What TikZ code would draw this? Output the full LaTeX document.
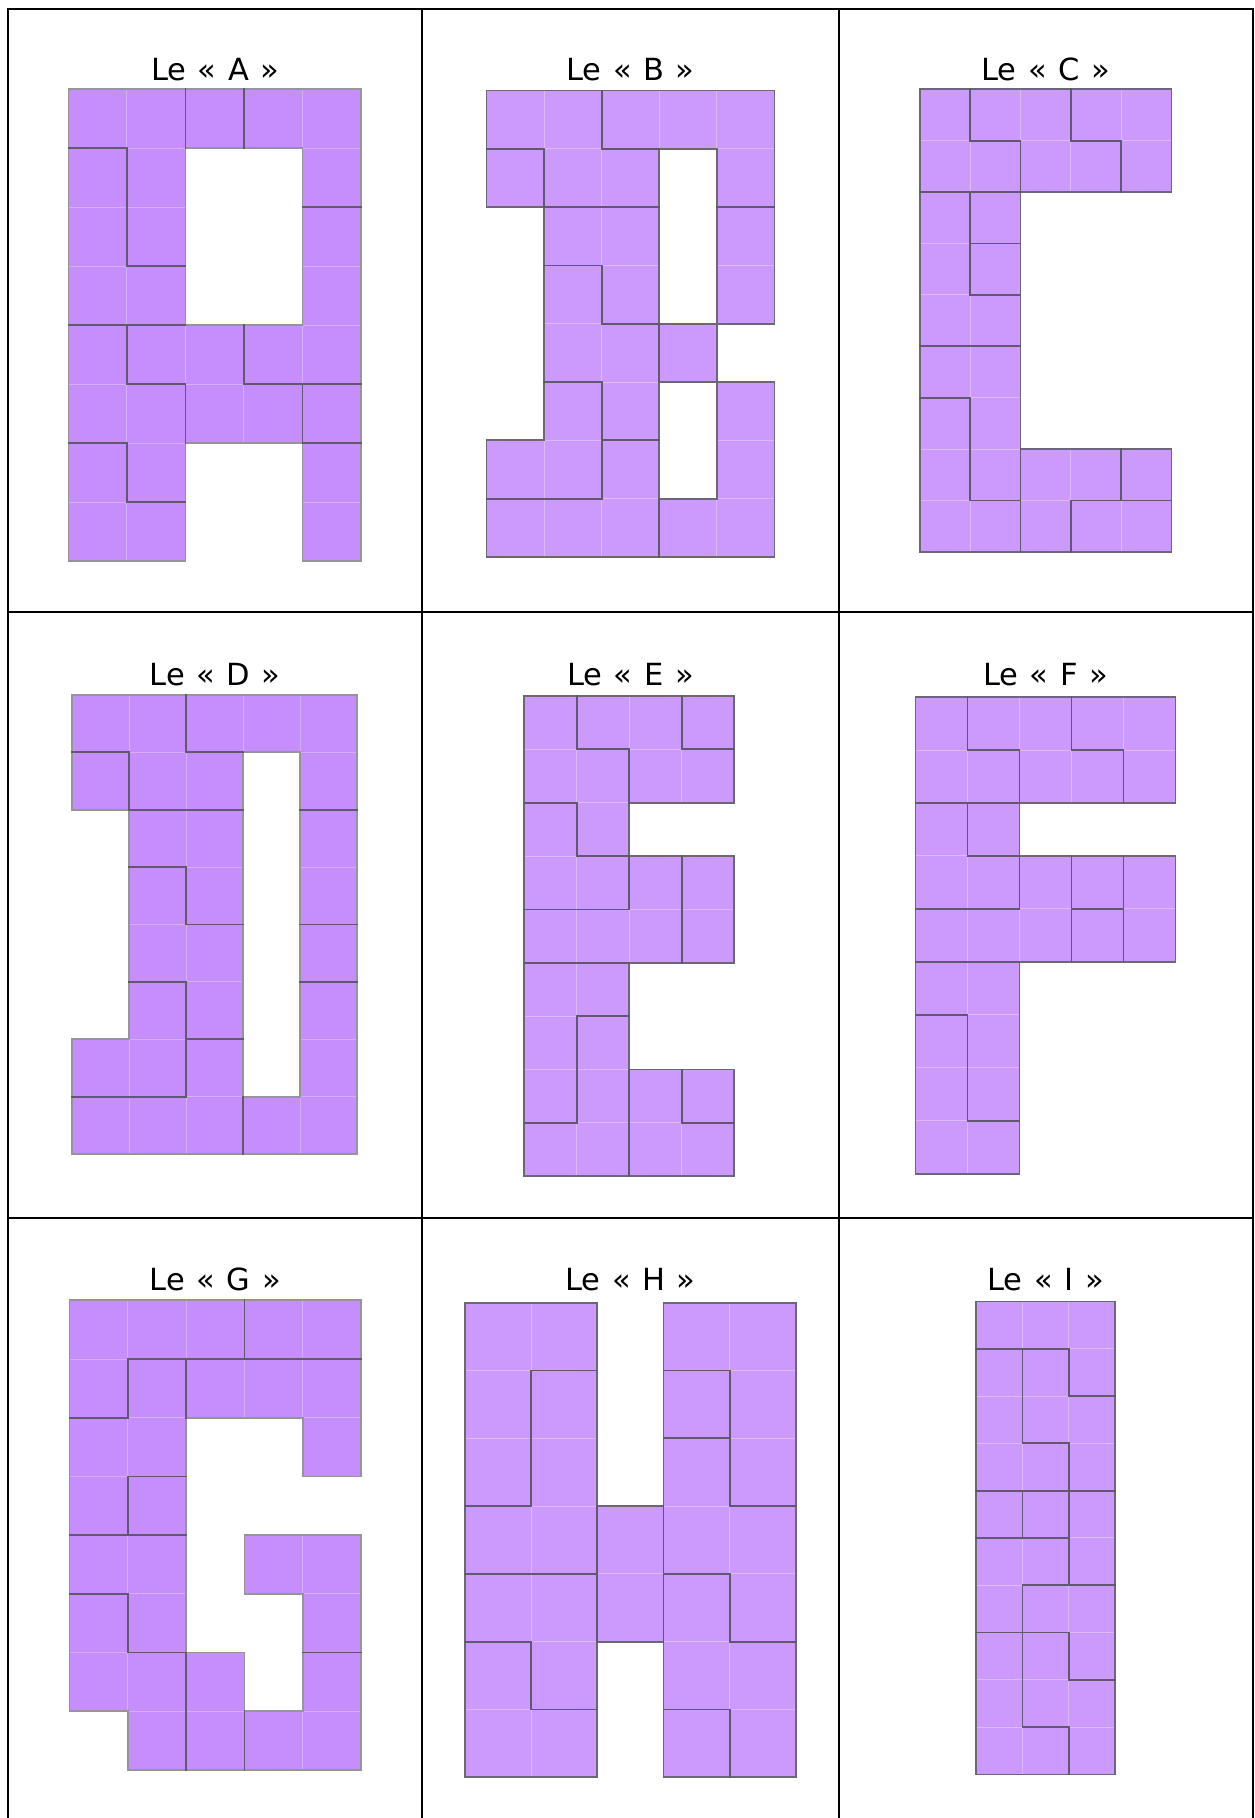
\documentclass[tikz,border=0pt]{standalone}
\usepackage{fontspec}
\setmainfont{DejaVu Sans}[WordSpace=1.2]
\definecolor{purA}{RGB}{197,142,252}
\definecolor{purB}{RGB}{204,154,253}
\definecolor{faintA}{RGB}{214,172,253}
\definecolor{faintB}{RGB}{221,184,254}
\definecolor{innerln}{RGB}{95,88,110}
\definecolor{outerA}{RGB}{150,148,155}
\definecolor{outerB}{RGB}{108,103,116}
\makeatletter
\def\dotchar{.}
\newcommand\setrow[3]{%
  \foreach \v [count=\k from 0] in {#3}{%
    \expandafter\xdef\csname cell@#1@#2@\k\endcsname{\v}%
  }}
\newcommand\getcell[4]{%
  \ifcsname cell@#2@#3@#4\endcsname
    \edef#1{\csname cell@#2@#3@#4\endcsname}%
  \else
    \def#1{.}%
  \fi}
\newcommand\edgekind{%
  \ifx\myL\myR
    \ifx\myL\dotchar\def\kind{0}\else\def\kind{1}\fi
  \else
    \ifx\myL\dotchar\def\kind{3}\else
      \ifx\myR\dotchar\def\kind{3}\else\def\kind{2}\fi
    \fi
  \fi}
% cell size is taken from \lsx and \lsy
% #1 name #2 x0 #3 y0 #4 cols #5 rows #6 wanted kind #7 style
\newcommand\drawedges[7]{%
  \pgfmathtruncatemacro\nrow{#5-1}%
  \pgfmathtruncatemacro\ncol{#4-1}%
  \foreach \r in {0,...,\nrow}{%
    \foreach \c in {0,...,#4}{%
      \pgfmathtruncatemacro\cl{\c-1}%
      \getcell\myL{#1}{\r}{\cl}%
      \getcell\myR{#1}{\r}{\c}%
      \edgekind
      \ifnum\kind=#6\relax
        \draw[#7] ({#2+\c*\lsx},{#3+\r*\lsy}) -- ++(0,\lsy);
      \fi
    }}%
  \foreach \r in {0,...,#5}{%
    \foreach \c in {0,...,\ncol}{%
      \pgfmathtruncatemacro\ru{\r-1}%
      \getcell\myL{#1}{\ru}{\c}%
      \getcell\myR{#1}{\r}{\c}%
      \edgekind
      \ifnum\kind=#6\relax
        \draw[#7] ({#2+\c*\lsx},{#3+\r*\lsy}) -- ++(\lsx,0);
      \fi
    }}%
}
\newcommand\fillcells[6]{%
  \pgfmathtruncatemacro\nrow{#5-1}%
  \pgfmathtruncatemacro\ncol{#4-1}%
  \foreach \r in {0,...,\nrow}{%
    \foreach \c in {0,...,\ncol}{%
      \getcell\myL{#1}{\r}{\c}%
      \ifx\myL\dotchar\else
        \fill[#6] ({#2+\c*\lsx},{#3+\r*\lsy}) rectangle ++(\lsx,\lsy);
      \fi
    }}}
% name x0 y0 cols rows fill faint outer
\newcommand\drawletter[8]{%
  \fillcells{#1}{#2}{#3}{#4}{#5}{#6}%
  \drawedges{#1}{#2}{#3}{#4}{#5}{1}{draw=#7,line width=1pt}%
  \drawedges{#1}{#2}{#3}{#4}{#5}{3}{draw=#8,line width=1.8pt,line cap=rect}%
  \drawedges{#1}{#2}{#3}{#4}{#5}{2}{draw=innerln,line width=1.8pt,line cap=rect}%
}
\makeatother
% ---------- letter grids ----------
\setrow{A}{0}{a,a,b,c,c}
\setrow{A}{1}{d,a,.,.,c}
\setrow{A}{2}{d,a,.,.,e}
\setrow{A}{3}{d,d,.,.,e}
\setrow{A}{4}{f,g,g,e,e}
\setrow{A}{5}{f,f,g,g,h}
\setrow{A}{6}{i,f,.,.,j}
\setrow{A}{7}{i,i,.,.,j}
%
\setrow{B}{0}{a,a,b,b,b}
\setrow{B}{1}{c,a,a,.,b}
\setrow{B}{2}{.,d,d,.,e}
\setrow{B}{3}{.,f,d,.,e}
\setrow{B}{4}{.,f,f,g,.}
\setrow{B}{5}{.,h,f,.,i}
\setrow{B}{6}{h,h,j,.,i}
\setrow{B}{7}{j,j,j,i,i}
%
\setrow{C}{0}{a,b,b,c,c}
\setrow{C}{1}{a,a,b,b,c}
\setrow{C}{2}{d,e,.,.,.}
\setrow{C}{3}{d,f,.,.,.}
\setrow{C}{4}{d,d,.,.,.}
\setrow{C}{5}{g,g,.,.,.}
\setrow{C}{6}{h,g,.,.,.}
\setrow{C}{7}{h,g,i,i,k}
\setrow{C}{8}{h,h,i,l,l}
%
\setrow{D}{0}{a,a,b,b,b}
\setrow{D}{1}{c,a,a,.,b}
\setrow{D}{2}{.,d,d,.,e}
\setrow{D}{3}{.,f,d,.,e}
\setrow{D}{4}{.,f,f,.,k}
\setrow{D}{5}{.,h,f,.,i}
\setrow{D}{6}{h,h,j,.,i}
\setrow{D}{7}{j,j,j,i,i}
%
\setrow{E}{0}{a,b,b,c}
\setrow{E}{1}{a,a,b,b}
\setrow{E}{2}{d,a,.,.}
\setrow{E}{3}{d,d,e,f}
\setrow{E}{4}{e,e,e,f}
\setrow{E}{5}{g,g,.,.}
\setrow{E}{6}{g,h,.,.}
\setrow{E}{7}{g,h,i,k}
\setrow{E}{8}{h,h,i,i}
%
\setrow{F}{0}{a,b,b,c,c}
\setrow{F}{1}{a,a,b,b,c}
\setrow{F}{2}{d,m,.,.,.}
\setrow{F}{3}{d,d,e,n,f}
\setrow{F}{4}{e,e,e,o,f}
\setrow{F}{5}{g,g,.,.,.}
\setrow{F}{6}{h,g,.,.,.}
\setrow{F}{7}{h,g,.,.,.}
\setrow{F}{8}{h,h,.,.,.}
%
\setrow{G}{0}{a,a,a,b,b}
\setrow{G}{1}{a,d,c,c,c}
\setrow{G}{2}{d,d,.,.,c}
\setrow{G}{3}{d,e,.,.,.}
\setrow{G}{4}{f,f,.,h,h}
\setrow{G}{5}{g,f,.,.,h}
\setrow{G}{6}{g,g,i,.,j}
\setrow{G}{7}{.,g,i,j,j}
%
\setrow{H}{0}{a,a,.,b,b}
\setrow{H}{1}{a,d,.,c,b}
\setrow{H}{2}{a,d,.,e,b}
\setrow{H}{3}{d,d,m,e,e}
\setrow{H}{4}{f,f,m,g,e}
\setrow{H}{5}{h,f,.,g,g}
\setrow{H}{6}{h,h,.,k,g}
%
\setrow{I}{0}{a,a,a}
\setrow{I}{1}{b,c,a}
\setrow{I}{2}{b,c,c}
\setrow{I}{3}{b,b,c}
\setrow{I}{4}{h,k,m}
\setrow{I}{5}{d,d,m}
\setrow{I}{6}{d,e,e}
\setrow{I}{7}{f,g,e}
\setrow{I}{8}{f,g,g}
\setrow{I}{9}{f,f,g}
\begin{document}
\begin{tikzpicture}[x=1pt,y=-1pt,
  tbl/.style={draw=black,line width=2pt,line cap=rect},
  ttl/.style={anchor=base,inner sep=0pt,font=\fontsize{30.5pt}{36pt}\selectfont}]
\useasboundingbox[fill=white] (0,0) rectangle (1255,1818);
% table
\draw[tbl] (8.1,9.3) -- (1252.7,9.3);
\draw[tbl] (8.1,612.4) -- (1252.7,612.4);
\draw[tbl] (8.1,1217.9) -- (1252.7,1217.9);
\draw[tbl] (8.1,9.3) -- (8.1,1818);
\draw[tbl] (422.2,9.3) -- (422.2,1818);
\draw[tbl] (838.6,9.3) -- (838.6,1818);
\draw[tbl] (1252.7,9.3) -- (1252.7,1818);
% titles
\node[ttl] (tA) at (215.2,80.7) {Le « A »};
\node[ttl] (tB) at (630.4,80.7) {Le « B »};
\node[ttl] (tC) at (1045.6,80.7) {Le « C »};
\node[ttl] (tD) at (215.2,685) {Le « D »};
\node[ttl] (tE) at (630.4,685) {Le « E »};
\node[ttl] (tF) at (1045.6,685) {Le « F »};
\node[ttl] (tG) at (215.2,1290) {Le « G »};
\node[ttl] (tH) at (630.4,1290) {Le « H »};
\node[ttl] (tI) at (1045.6,1290) {Le « I »};
% letters
\def\lsx{58.5}\def\lsy{59.0}
\drawletter{A}{68.4}{89.3}{5}{8}{purA}{faintA}{outerA}
\def\lsx{57.6}\def\lsy{58.3}
\drawletter{B}{486.4}{90.5}{5}{8}{purB}{faintB}{outerB}
\def\lsx{50.3}\def\lsy{51.4}
\drawletter{C}{919.9}{89.3}{5}{9}{purB}{faintB}{outerB}
\def\lsx{57.0}\def\lsy{57.4}
\drawletter{D}{72}{694.8}{5}{8}{purA}{faintA}{outerA}
\def\lsx{52.5}\def\lsy{53.35}
\drawletter{E}{524.3}{696}{4}{9}{purB}{faintB}{outerB}
\def\lsx{52.0}\def\lsy{52.95}
\drawletter{F}{915.5}{697.1}{5}{9}{purB}{faintB}{outerB}
\def\lsx{58.3}\def\lsy{58.7}
\drawletter{G}{69.5}{1300.3}{5}{8}{purA}{faintA}{outerA}
\def\lsx{66.2}\def\lsy{67.8}
\drawletter{H}{464.9}{1302.6}{5}{7}{purB}{faintB}{outerB}
\def\lsx{46.4}\def\lsy{47.3}
\drawletter{I}{976}{1301.4}{3}{10}{purB}{faintB}{outerB}
\end{tikzpicture}
\end{document}
